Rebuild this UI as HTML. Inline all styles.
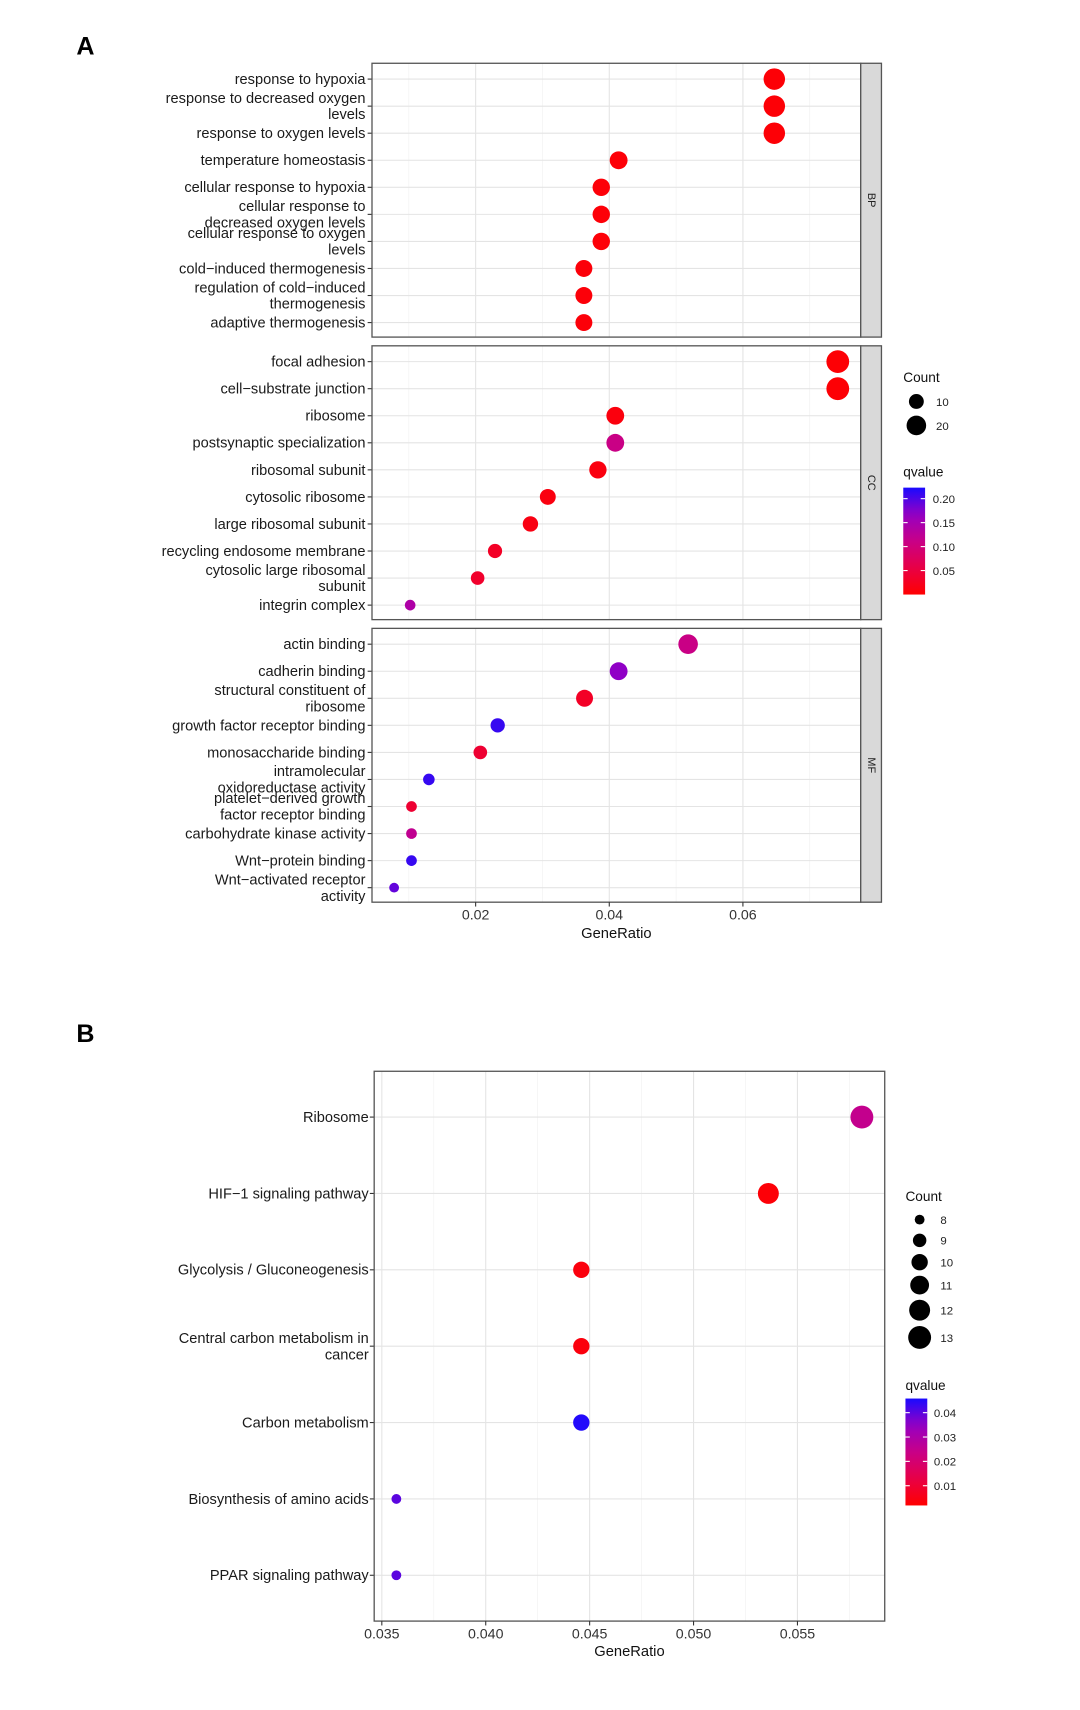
<!DOCTYPE html>
<html><head><meta charset="utf-8"><style>
html,body{margin:0;padding:0;background:#fff;}
svg{display:block;font-family:"Liberation Sans",Arial,sans-serif;}
</style></head><body>
<svg id="fig" width="1080" height="1710" viewBox="0 0 990 1567.5" xmlns="http://www.w3.org/2000/svg">
<text x="70" y="50" font-size="23" font-weight="bold">A</text>
<text x="70" y="955" font-size="23" font-weight="bold">B</text>
<g id="gA"></g>
<g id="gB"></g>
</svg>
<script>
// ---------- Panel A data ----------
const bpTerms = ["response to hypoxia","response to decreased oxygen\nlevels","response to oxygen levels","temperature homeostasis","cellular response to hypoxia","cellular response to\ndecreased oxygen levels","cellular response to oxygen\nlevels","cold\u2212induced thermogenesis","regulation of cold\u2212induced\nthermogenesis","adaptive thermogenesis"];
const bpRatio = [0.0647,0.0647,0.0647,0.0414,0.0388,0.0388,0.0388,0.0362,0.0362,0.0362];
const bpQ = [0.005,0.005,0.005,0.006,0.006,0.006,0.006,0.007,0.007,0.007];
const ccTerms = ["focal adhesion","cell\u2212substrate junction","ribosome","postsynaptic specialization","ribosomal subunit","cytosolic ribosome","large ribosomal subunit","recycling endosome membrane","cytosolic large ribosomal\nsubunit","integrin complex"];
const ccRatio = [0.0742,0.0742,0.0409,0.0409,0.0383,0.0308,0.0282,0.0229,0.0203,0.0102];
const ccQ = [0.004,0.004,0.01,0.11,0.012,0.012,0.014,0.03,0.035,0.14];
const mfTerms = ["actin binding","cadherin binding","structural constituent of\nribosome","growth factor receptor binding","monosaccharide binding","intramolecular\noxidoreductase activity","platelet\u2212derived growth\nfactor receptor binding","carbohydrate kinase activity","Wnt\u2212protein binding","Wnt\u2212activated receptor\nactivity"];
const mfRatio = [0.0518,0.0414,0.0363,0.0233,0.0207,0.0130,0.0104,0.0104,0.0104,0.0078];
const mfQ = [0.11,0.17,0.03,0.21,0.04,0.21,0.04,0.12,0.21,0.19];
const aXTicks = [0.02,0.04,0.06];
const aQTicks = [0.05,0.10,0.15,0.20];
const aCountLegend = [10,20];
// ---------- Panel B data ----------
const bTerms = ["Ribosome","HIF\u22121 signaling pathway","Glycolysis / Gluconeogenesis","Central carbon metabolism in\ncancer","Carbon metabolism","Biosynthesis of amino acids","PPAR signaling pathway"];
const bRatio = [0.0581,0.0536,0.0446,0.0446,0.0446,0.0357,0.0357];
const bCount = [13,12,10,10,10,8,8];
const bQ = [0.025,0.003,0.004,0.004,0.045,0.040,0.040];
const bXTicks = [0.035,0.040,0.045,0.050,0.055];
const bQTicks = [0.01,0.02,0.03,0.04];
const bCountLegend = [8,9,10,11,12,13];

const NS="http://www.w3.org/2000/svg";
function mk(parent,tag,attrs,text){const e=document.createElementNS(NS,tag);for(const k in attrs)e.setAttribute(k,attrs[k]);if(text!==undefined)e.textContent=text;parent.appendChild(e);return e;}
const cStops=[[255,0,0],[232,0,70],[200,0,135],[150,0,195],[25,10,255]];
function qcol(q,lo,hi){let t=(q-lo)/(hi-lo);t=Math.max(0,Math.min(1,t));
  const s=t*(cStops.length-1);const i=Math.min(cStops.length-2,Math.floor(s));const f=s-i;
  const c=cStops[i].map((v,k)=>Math.round(v+(cStops[i+1][k]-v)*f));
  return `rgb(${c[0]},${c[1]},${c[2]})`;}
function label(g,x,y,txt,size){const lines=txt.split("\n");const lh=15;const y0=y-(lines.length-1)*lh/2+4.5;
  lines.forEach((l,i)=>{const t=mk(g,"text",{x:x,y:y0+i*lh,"text-anchor":"end","font-size":size,fill:"#1a1a1a"},l);
  
  });}

// ---------- Panel A ----------
const gA=document.getElementById("gA");
const axL=341,axR=789;
const xA=v=>436+(v-0.02)*6125;
const rA=c=>1.6+1.65*Math.sqrt(c);
const qHiA=0.223;
const panels=[{terms:bpTerms,ratio:bpRatio,q:bpQ,top:58,bot:309,strip:"BP"},{terms:ccTerms,ratio:ccRatio,q:ccQ,top:317,bot:568,strip:"CC"},{terms:mfTerms,ratio:mfRatio,q:mfQ,top:576,bot:827,strip:"MF"}];
panels.forEach((p,pi)=>{
  const pg=mk(gA,"g",{});
  
  
  const yOf=i=>p.top+14.5+24.8*i;
  [0.01,0.03,0.05,0.07].forEach(v=>mk(pg,"line",{x1:xA(v),x2:xA(v),y1:p.top,y2:p.bot,stroke:"#f1f1f1","stroke-width":0.6}));
  aXTicks.forEach(v=>mk(pg,"line",{x1:xA(v),x2:xA(v),y1:p.top,y2:p.bot,stroke:"#e4e4e4","stroke-width":1}));
  p.terms.forEach((t,i)=>{mk(pg,"line",{x1:axL,x2:axR,y1:yOf(i),y2:yOf(i),stroke:"#e4e4e4","stroke-width":1});
    mk(pg,"line",{x1:axL-4,x2:axL,y1:yOf(i),y2:yOf(i),stroke:"#333","stroke-width":1});
    label(pg,335,yOf(i),t,13.4);});
  p.terms.forEach((t,i)=>{const c=p.ratio[i]*386;
    const d=mk(pg,"circle",{cx:xA(p.ratio[i]),cy:yOf(i),r:rA(c),fill:qcol(p.q[i],0,qHiA)});
    
    });
  mk(pg,"rect",{x:axL,y:p.top,width:axR-axL,height:p.bot-p.top,fill:"none",stroke:"#555","stroke-width":1.2});
  const s=mk(pg,"rect",{x:axR,y:p.top,width:19,height:p.bot-p.top,fill:"#d9d9d9",stroke:"#555","stroke-width":1.2});
  
  
  const cy=(p.top+p.bot)/2;
  mk(pg,"text",{x:798.5,y:cy,"font-size":10,fill:"#222","text-anchor":"middle",transform:`rotate(90 798.5 ${cy})`,"dominant-baseline":"middle"},p.strip);
  if(pi===2){aXTicks.forEach(v=>{mk(pg,"line",{x1:xA(v),x2:xA(v),y1:p.bot,y2:p.bot+4,stroke:"#333"});
    const t=mk(pg,"text",{x:xA(v),y:p.bot+16,"font-size":13,"text-anchor":"middle",fill:"#333"},v.toFixed(2));
    
    });}
});
{const t=mk(gA,"text",{x:565,y:860,"font-size":13.5,"text-anchor":"middle",fill:"#111"},"GeneRatio");

}
{const lg=mk(gA,"g",{});


mk(lg,"text",{x:828,y:350,"font-size":12.5,fill:"#111"},"Count");
aCountLegend.forEach((c,i)=>{const y=368+i*22;mk(lg,"circle",{cx:840,cy:y,r:rA(c),fill:"#000"});mk(lg,"text",{x:858,y:y+4,"font-size":10.5,fill:"#222"},c);});
mk(lg,"text",{x:828,y:437,"font-size":12.5,fill:"#111"},"qvalue");
const df=mk(lg,"defs",{});const gr=mk(df,"linearGradient",{id:"gradA",x1:0,y1:1,x2:0,y2:0});
for(let k=0;k<=10;k++)mk(gr,"stop",{offset:k/10,"stop-color":qcol(qHiA*k/10,0,qHiA)});
const top=447,bot=545;mk(lg,"rect",{x:828,y:top,width:20,height:bot-top,fill:"url(#gradA)"});
aQTicks.forEach(v=>{const y=bot-(v/qHiA)*(bot-top);mk(lg,"line",{x1:828,x2:832,y1:y,y2:y,stroke:"#fff"});mk(lg,"line",{x1:844,x2:848,y1:y,y2:y,stroke:"#fff"});mk(lg,"text",{x:855,y:y+4,"font-size":10.5,fill:"#222"},v.toFixed(2));});}

// ---------- Panel B ----------
const gB=document.getElementById("gB");
const bL=343,bR=811,bT=982,bBot=1486;
const xB=v=>350+(v-0.035)*19050;
const rB=c=>Math.sqrt(18*c-123.75);
const qLoB=0.0019,qHiB=0.0458;
const yB=i=>1024+70*i;
[0.0375,0.0425,0.0475,0.0525,0.0575].forEach(v=>mk(gB,"line",{x1:xB(v),x2:xB(v),y1:bT,y2:bBot,stroke:"#f1f1f1","stroke-width":0.6}));
bXTicks.forEach(v=>mk(gB,"line",{x1:xB(v),x2:xB(v),y1:bT,y2:bBot,stroke:"#e4e4e4"}));
bTerms.forEach((t,i)=>{mk(gB,"line",{x1:bL,x2:bR,y1:yB(i),y2:yB(i),stroke:"#e4e4e4"});
  mk(gB,"line",{x1:bL-4,x2:bL,y1:yB(i),y2:yB(i),stroke:"#333"});label(gB,338,yB(i),t,13.4);});
bTerms.forEach((t,i)=>{const d=mk(gB,"circle",{cx:xB(bRatio[i]),cy:yB(i),r:rB(bCount[i]),fill:qcol(bQ[i],qLoB,qHiB)});
  
  });
mk(gB,"rect",{x:bL,y:bT,width:bR-bL,height:bBot-bT,fill:"none",stroke:"#555","stroke-width":1.2});
bXTicks.forEach(v=>{mk(gB,"line",{x1:xB(v),x2:xB(v),y1:bBot,y2:bBot+4,stroke:"#333"});
  const t=mk(gB,"text",{x:xB(v),y:bBot+16,"font-size":13,"text-anchor":"middle",fill:"#333"},v.toFixed(3));
  
  });
{const t=mk(gB,"text",{x:577,y:1518,"font-size":13.5,"text-anchor":"middle",fill:"#111"},"GeneRatio");

}
{const lg=mk(gB,"g",{});


mk(lg,"text",{x:830,y:1101,"font-size":12.5,fill:"#111"},"Count");
const ys=[1118,1137,1157,1178,1201,1226];
bCountLegend.forEach((c,i)=>{mk(lg,"circle",{cx:843,cy:ys[i],r:rB(c),fill:"#000"});mk(lg,"text",{x:862,y:ys[i]+4,"font-size":10.5,fill:"#222"},c);});
mk(lg,"text",{x:830,y:1274,"font-size":12.5,fill:"#111"},"qvalue");
const df=mk(lg,"defs",{});const gr=mk(df,"linearGradient",{id:"gradB",x1:0,y1:1,x2:0,y2:0});
for(let k=0;k<=10;k++)mk(gr,"stop",{offset:k/10,"stop-color":qcol(qLoB+(qHiB-qLoB)*k/10,qLoB,qHiB)});
const top=1282,bot=1380;mk(lg,"rect",{x:830,y:top,width:20,height:bot-top,fill:"url(#gradB)"});
bQTicks.forEach(v=>{const y=bot-((v-qLoB)/(qHiB-qLoB))*(bot-top);mk(lg,"line",{x1:830,x2:834,y1:y,y2:y,stroke:"#fff"});mk(lg,"line",{x1:846,x2:850,y1:y,y2:y,stroke:"#fff"});mk(lg,"text",{x:856,y:y+4,"font-size":10.5,fill:"#222"},v.toFixed(2));});}
</script>
</body></html>
